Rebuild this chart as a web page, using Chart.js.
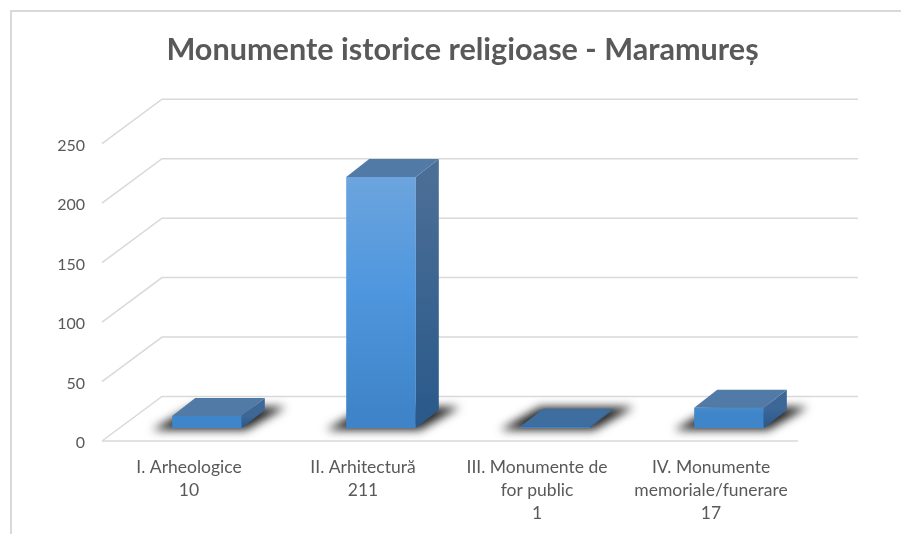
<!DOCTYPE html>
<html>
<head>
<meta charset="utf-8">
<style>
html, body { margin: 0; padding: 0; background: #fff; }
#wrap { position: relative; width: 901px; height: 534px; overflow: hidden; }
#frame { position: absolute; left: 10px; top: 10px; width: 900px; height: 600px; border: 2px solid #d9d9d9; box-sizing: border-box; }
canvas { position: absolute; left: 0; top: 0; }
</style>
<script src="https://cdn.jsdelivr.net/npm/chart.js@4"></script>
</head>
<body>
<div id="wrap">
<div id="frame"></div>
<canvas id="chart" width="901" height="534"></canvas>
</div>
<script>
const categories = [
    ['I. Arheologice', '10'],
    ['II. Arhitectură', '211'],
    ['III. Monumente de', 'for public', '1'],
    ['IV. Monumente', 'memoriale/funerare', '17']
];
const values = [10, 211, 1, 17];
const yTicks = [0, 50, 100, 150, 200, 250];

// the tick labels sit a little below the front edge of the floor
const floorY = -2;
// offset of the bars from the axis, and their depth
const barShiftX = 18, barShiftY = -15;
const depthX = 23, depthY = -18;
// offset of the back wall from the front edge of the floor
const wallX = 60, wallY = -44.5;
const wallRight = 858;
const gridColor = '#d9d9d9';

function frontGradient(context) {
    const { chart, dataIndex } = context;
    const y = chart.scales.y;
    if (!chart.chartArea) return '#4a90d6';
    const g = chart.ctx.createLinearGradient(0, y.getPixelForValue(values[dataIndex]) + barShiftY, 0, y.getPixelForValue(0) + barShiftY);
    if (values[dataIndex] > 100) {
        g.addColorStop(0, '#70a6de');
        g.addColorStop(0.5, '#4f97de');
        g.addColorStop(1, '#3f84c8');
    } else {
        g.addColorStop(0, '#5a9cdd');
        g.addColorStop(1, '#3f85c9');
    }
    return g;
}

const wallsPlugin = {
    id: 'walls',
    beforeDatasetsDraw(chart) {
        const { ctx, chartArea, scales } = chart;
        ctx.save();
        ctx.strokeStyle = gridColor;
        ctx.lineWidth = 1.5;
        for (const t of yTicks) {
            const y = scales.y.getPixelForValue(t) + floorY;
            ctx.beginPath();
            ctx.moveTo(chartArea.left, y);
            ctx.lineTo(chartArea.left + wallX, y + wallY);
            ctx.lineTo(wallRight, y + wallY);
            ctx.stroke();
        }
        const y0 = scales.y.getPixelForValue(0);
        ctx.beginPath();
        ctx.moveTo(chartArea.left, y0 + floorY);
        ctx.lineTo(chartArea.right, y0 + floorY);
        ctx.stroke();
        ctx.restore();

        // soft shadows on the floor, under the bars
        const meta = chart.getDatasetMeta(0);
        ctx.save();
        ctx.translate(barShiftX, barShiftY);
        ctx.filter = 'blur(5px)';
        ctx.fillStyle = '#222222';
        for (const bar of meta.data) {
            const left = bar.x - bar.width / 2, right = bar.x + bar.width / 2;
            ctx.beginPath();
            ctx.moveTo(left - 20, y0 + 2);
            ctx.lineTo(right + 4, y0 + 2);
            ctx.lineTo(right + 44, y0 - 21);
            ctx.lineTo(left + 20, y0 - 21);
            ctx.closePath();
            ctx.fill();
        }
        ctx.restore();

        ctx.save();
        ctx.translate(barShiftX, barShiftY);
    },
    afterDatasetsDraw(chart) {
        const { ctx, scales } = chart;
        ctx.restore();

        // top and side faces of the bars
        ctx.save();
        ctx.translate(barShiftX, barShiftY);
        const y0 = scales.y.getPixelForValue(0);
        chart.getDatasetMeta(0).data.forEach((bar) => {
            const left = bar.x - bar.width / 2, right = bar.x + bar.width / 2, top = bar.y;

            const side = ctx.createLinearGradient(0, top, 0, y0);
            side.addColorStop(0, bar.y < y0 - 100 ? '#4b6e96' : '#3d6797');
            side.addColorStop(1, '#29598a');
            ctx.fillStyle = side;
            ctx.beginPath();
            ctx.moveTo(right, top);
            ctx.lineTo(right + depthX, top + depthY);
            ctx.lineTo(right + depthX, y0 + depthY);
            ctx.lineTo(right, y0);
            ctx.closePath();
            ctx.fill();

            ctx.fillStyle = y0 - top < 3 ? '#3e6d9f' : '#527aa6';
            ctx.beginPath();
            ctx.moveTo(left, top);
            ctx.lineTo(right, top);
            ctx.lineTo(right + depthX, top + depthY);
            ctx.lineTo(left + depthX, top + depthY);
            ctx.closePath();
            ctx.fill();
        });
        ctx.restore();
    }
};

new Chart(document.getElementById('chart').getContext('2d'), {
    type: 'bar',
    data: {
        labels: categories,
        datasets: [{
            data: values,
            backgroundColor: frontGradient,
            borderWidth: 0,
            barPercentage: 1,
            categoryPercentage: 0.4
        }]
    },
    options: {
        responsive: false,
        animation: false,
        layout: { padding: { left: 24, right: 0, top: 0, bottom: 0 } },
        plugins: {
            legend: { display: false },
            tooltip: { enabled: false },
            title: {
                display: true,
                text: 'Monumente istorice religioase - Maramureș',
                color: '#595959',
                font: { family: 'Lato', size: 30.6, weight: 'bold', lineHeight: 1.2 },
                padding: { top: 32, bottom: 77 }
            }
        },
        scales: {
            x: {
                grid: { display: false },
                border: { display: false },
                ticks: {
                    color: '#595959',
                    font: { family: 'Lato', size: 17.5, lineHeight: 1.31 },
                    maxRotation: 0,
                    autoSkip: false,
                    padding: 5
                },
                afterFit(scale) { scale.height = 91; }
            },
            y: {
                min: 0,
                max: 250,
                grid: { display: false },
                border: { display: false },
                ticks: {
                    stepSize: 50,
                    color: '#595959',
                    font: { family: 'Lato', size: 16 },
                    padding: 9
                },
                afterFit(scale) { scale.width = 78; }
            },
            // empty axis, keeps the room right of the floor for the back wall
            yRight: {
                position: 'right',
                min: 0,
                max: 250,
                grid: { display: false },
                border: { display: false },
                ticks: { display: false },
                afterFit(scale) { scale.width = 103; }
            }
        }
    },
    plugins: [wallsPlugin]
});
</script>
</body>
</html>
